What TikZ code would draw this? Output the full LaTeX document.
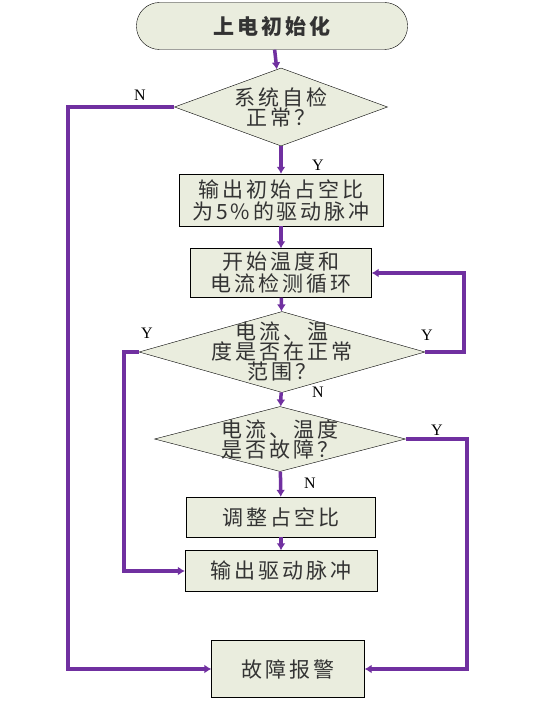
\documentclass[tikz,border=0pt]{standalone}
\usepackage{fontspec}
\usetikzlibrary{shapes.geometric}
\usetikzlibrary{arrows.meta}
\newfontfamily\cjk[LetterSpace=14]{Noto Sans CJK SC}
\newfontfamily\yn{Liberation Serif}
\definecolor{boxfill}{RGB}{234,237,222}
\definecolor{flow}{RGB}{112,48,160}

\begin{document}
\begin{tikzpicture}[x=1pt,y=-1pt,
	box/.style={rectangle, draw=black, thin, fill=boxfill, inner sep=0pt, align=center, font=\cjk\fontsize{21}{22}\selectfont, text=black!80},
	dia/.style={diamond, draw=black, thin, fill=boxfill, inner sep=0pt},
	txt/.style={align=center, font=\cjk\fontsize{21}{20}\selectfont, text=black!80},
	line/.style={draw=flow, line width=3.5pt, -{Latex[length=7pt,width=9pt]}},
	yn/.style={font=\yn\fontsize{16}{16}\selectfont}]
	\useasboundingbox (0,0) rectangle (534,701);

	% boxes
	\node[box, rounded corners=23pt, minimum width=271pt, minimum height=47pt, font=\cjk\bfseries\fontsize{21}{22}\selectfont] (start) at (272,26) {上电初始化};
	\node[dia, minimum width=213pt, minimum height=78pt, label={[txt]center:{系统自检\\正常？}}] (d1) at (281,107) {};
	\node[box, minimum width=204pt, minimum height=52pt] (b1) at (281,200) {输出初始占空比\\为5\%的驱动脉冲};
	\node[box, minimum width=181pt, minimum height=49pt] (b2) at (281,273) {开始温度和\\电流检测循环};
	\node[dia, minimum width=286pt, minimum height=81pt, label={[txt]center:{电流、温\\度是否在正常\\范围？}}] (d2) at (282,352) {};
	\node[dia, minimum width=251pt, minimum height=65pt, label={[txt]center:{电流、温度\\是否故障？}}] (d3) at (280,439) {};
	\node[box, minimum width=189pt, minimum height=40pt] (b3) at (281,517) {调整占空比};
	\node[box, minimum width=192pt, minimum height=41pt] (b4) at (281,571) {输出驱动脉冲};
	\node[box, minimum width=153pt, minimum height=57pt] (alarm) at (288,669) {故障报警};

	% connectors
	\draw[line] (start) -- (d1);
	\draw[line] (d1) -- (b1);
	\draw[line] (b1) -- (b2);
	\draw[line] (b2) -- (d2);
	\draw[line] (d2) -- (d3);
	\draw[line] (d3) -- (b3);
	\draw[line] (b3) -- (b4);
	\draw[line] (d1.west) -- (68,107) |- (alarm.west);
	\draw[line] (d2.east) -- (464,352) |- (b2.east);
	\draw[line] (d2.west) -- (124,352) |- (b4.west);
	\draw[line] (d3.east) -- (467,439) |- (alarm.east);

	% labels
	\node[yn] (n1) at (140,95) {N};
	\node[yn] (y1) at (318,165) {Y};
	\node[yn] (y2) at (147,333) {Y};
	\node[yn] (y3) at (427,335) {Y};
	\node[yn] (n2) at (318,392) {N};
	\node[yn] (y4) at (437,430) {Y};
	\node[yn] (n3) at (310,483) {N};
\end{tikzpicture}
\end{document}
